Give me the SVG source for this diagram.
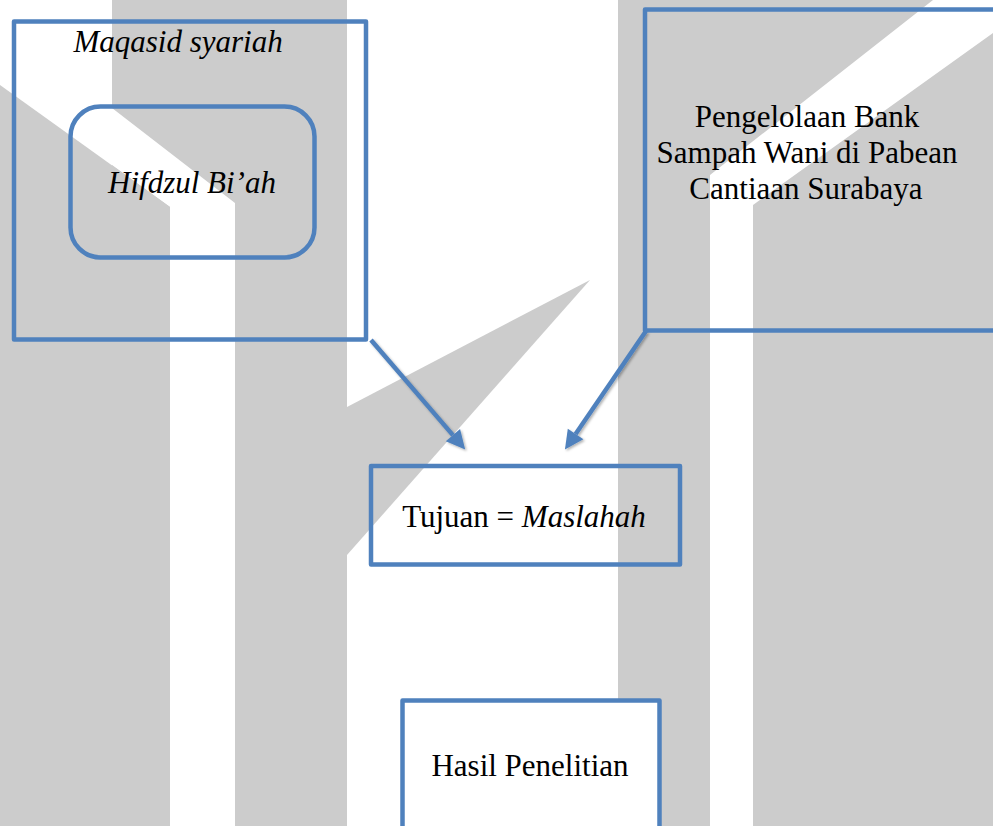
<svg xmlns="http://www.w3.org/2000/svg" width="993" height="826" viewBox="0 0 993 826">
<style>
.wm{fill:#cccccc}
.wh{fill:#ffffff}
.box{fill:none;stroke:#4f81bd;stroke-width:4.5;stroke-linejoin:round}
.boxw{fill:#ffffff;stroke:#4f81bd;stroke-width:4.5;stroke-linejoin:round}
.t{font-family:"Liberation Serif","Times New Roman",serif;font-size:31px;fill:#000000;text-anchor:middle}
.i{font-style:italic}
.conn{stroke:#4f81bd;stroke-width:4.5;fill:none;marker-end:url(#ah);filter:url(#sh)}
</style>
<defs>
<marker id="ah" markerUnits="userSpaceOnUse" markerWidth="20" markerHeight="20" refX="0" refY="8.5" orient="auto" viewBox="0 0 18 17" overflow="visible">
<path d="M0,0 L17,8.5 L0,17 Z" fill="#4f81bd"/>
</marker>
<filter id="sh" x="-20%" y="-20%" width="140%" height="140%">
<feDropShadow dx="1.5" dy="1.5" stdDeviation="1" flood-color="#000000" flood-opacity="0.3"/>
</filter>
</defs>
<rect width="993" height="826" fill="#ffffff"/>
<g id="watermark">
<rect class="wm" x="112" y="0" width="235" height="826"/>
<polygon class="wh" points="112,108 235,203 235,826 170,826 170,207 112,165"/>
<polygon class="wm" points="0,85 170,207 170,826 0,826"/>
<polygon class="wm" points="347,407 590,280 347,555"/>
<rect class="wm" x="618" y="0" width="375" height="826"/>
<polygon class="wh" points="933,0 993,0 993,33 753,205 753,826 710,826 710,175"/>
</g>
<g id="connectors">
<line class="conn" x1="368" y1="156" x2="616" y2="156"/>
<line class="conn" x1="371" y1="340" x2="452.9" y2="435.1"/>
<line class="conn" x1="646" y1="331" x2="575.6" y2="434"/>
<line class="conn" x1="529" y1="573" x2="529" y2="673"/>
</g>
<g id="node-maqasid">
<rect class="box" x="14" y="21.5" width="352" height="318"/>
<text class="t i" x="178" y="52">Maqasid syariah</text>
</g>
<g id="node-hifdzul">
<rect class="box" x="70.5" y="106.5" width="244" height="151" rx="30" ry="30"/>
<text class="t i" x="192" y="193">Hifdzul Bi’ah</text>
</g>
<g id="node-pengelolaan">
<rect class="box" x="645" y="9.5" width="360" height="321"/>
<text class="t" x="807" y="127">Pengelolaan Bank</text>
<text class="t" x="807" y="163">Sampah Wani di Pabean</text>
<text class="t" x="806" y="199">Cantiaan Surabaya</text>
</g>
<g id="node-tujuan">
<rect class="box" x="371" y="466" width="309" height="98.5"/>
<text class="t" x="524" y="527">Tujuan = <tspan class="i">Maslahah</tspan></text>
</g>
<g id="node-hasil">
<rect class="boxw" x="402.5" y="700.5" width="257" height="140"/>
<text class="t" x="530" y="776">Hasil Penelitian</text>
</g>
</svg>
